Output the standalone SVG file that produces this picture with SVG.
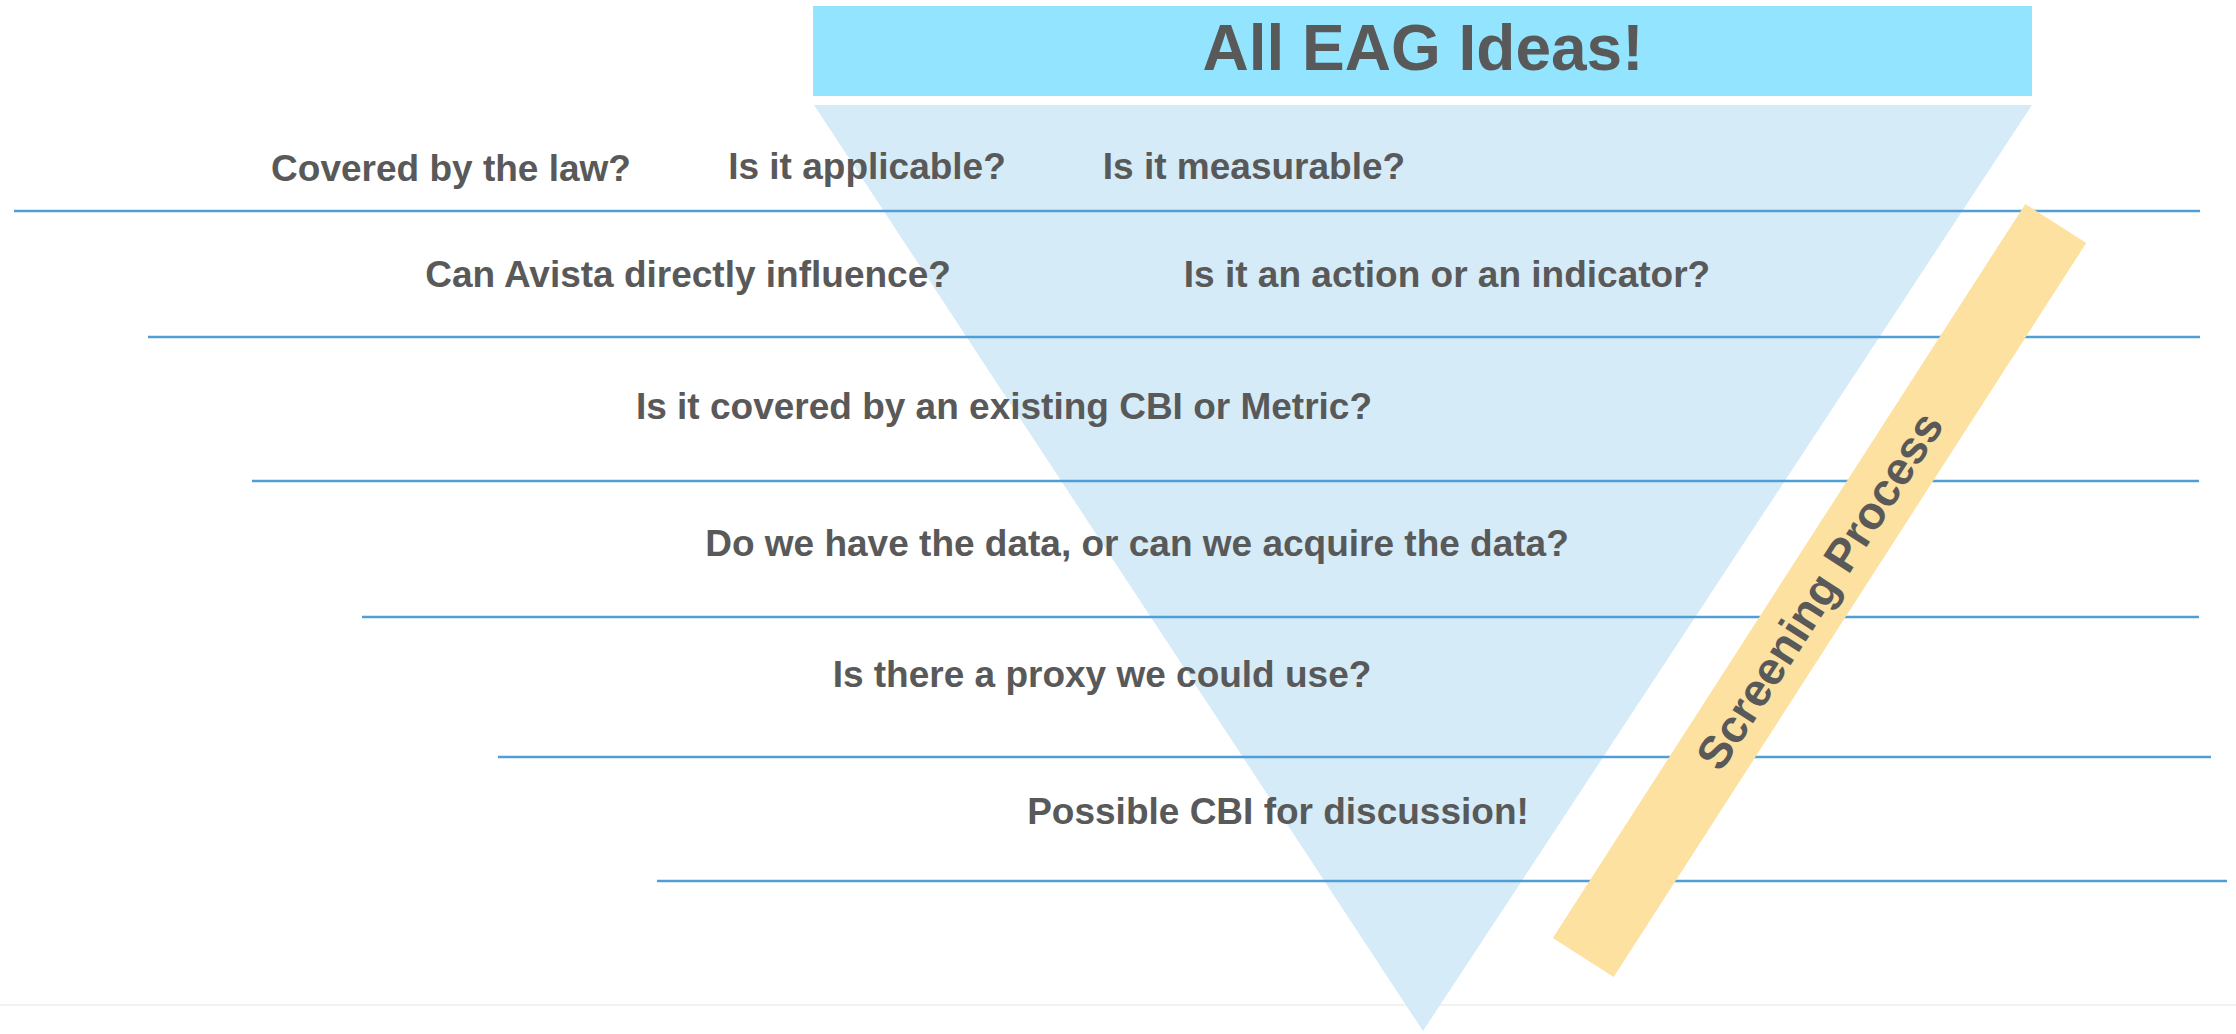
<svg xmlns="http://www.w3.org/2000/svg" width="2236" height="1034" viewBox="0 0 2236 1034">
<style>
.q{font-family:"Liberation Sans",Arial,sans-serif;font-weight:bold;font-size:37px;fill:#595959;text-anchor:middle}
.rule{stroke:#4F9ED6;stroke-width:2.5;fill:none}
</style>
<rect width="2236" height="1034" fill="#FFFFFF"/>
<line x1="0" y1="1005" x2="2236" y2="1005" stroke="#F2F2F2" stroke-width="2"/>
<g id="funnel">
<polygon points="814,105 2032,105 1423,1031" fill="#D5EBF8"/>
</g>
<g id="connectors">
<line class="rule" x1="14" y1="211" x2="2200" y2="211"/>
<line class="rule" x1="148" y1="337" x2="2200" y2="337"/>
<line class="rule" x1="252" y1="481" x2="2199" y2="481"/>
<line class="rule" x1="362" y1="617" x2="2199" y2="617"/>
<line class="rule" x1="498" y1="757" x2="2211" y2="757"/>
<line class="rule" x1="657" y1="881" x2="2227" y2="881"/>
</g>
<g id="header">
<rect x="813" y="6" width="1219" height="90" fill="#93E4FE"/>
<text x="1423" y="70" font-family="Liberation Sans,Arial,sans-serif" font-weight="bold" font-size="64" fill="#595959" text-anchor="middle">All EAG Ideas!</text>
</g>
<g id="screening">
<g transform="translate(1819.5,590.5) rotate(-57.23)">
<rect x="-436.5" y="-36.2" width="873" height="72.4" fill="#FDE1A1"/>
<text x="0" y="16" font-family="Liberation Sans,Arial,sans-serif" font-weight="bold" font-size="46" fill="#595959" text-anchor="middle">Screening Process</text>
</g>
</g>
<g id="q1"><text class="q" x="451" y="181">Covered by the law?</text></g>
<g id="q2"><text class="q" x="867" y="179">Is it applicable?</text></g>
<g id="q3"><text class="q" x="1254" y="179">Is it measurable?</text></g>
<g id="q4"><text class="q" x="688" y="287">Can Avista directly influence?</text></g>
<g id="q5"><text class="q" x="1447" y="287">Is it an action or an indicator?</text></g>
<g id="q6"><text class="q" x="1004" y="419">Is it covered by an existing CBI or Metric?</text></g>
<g id="q7"><text class="q" x="1137" y="556">Do we have the data, or can we acquire the data?</text></g>
<g id="q8"><text class="q" x="1102" y="687">Is there a proxy we could use?</text></g>
<g id="q9"><text class="q" x="1278" y="824">Possible CBI for discussion!</text></g>
</svg>
